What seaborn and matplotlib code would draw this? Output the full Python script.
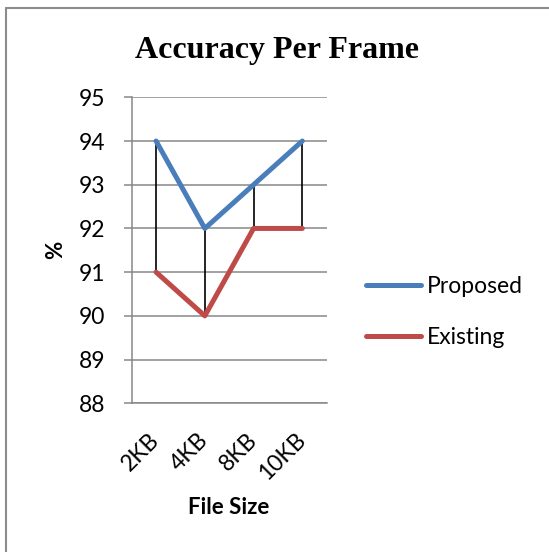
import matplotlib
matplotlib.use("Agg")
import matplotlib.pyplot as plt
from matplotlib.lines import Line2D
import seaborn as sns
import pandas as pd

categories = ["2KB", "4KB", "8KB", "10KB"]
proposed = [94, 92, 93, 94]
existing = [91, 90, 92, 92]
series_names = ["Proposed", "Existing"]
y_ticks = [88, 89, 90, 91, 92, 93, 94, 95]

df = pd.DataFrame({
    "File Size": categories * 2,
    "value": proposed + existing,
    "series": [series_names[0]] * len(categories) + [series_names[1]] * len(categories),
})

sns.set_style("white")
plt.rcParams["font.family"] = ["Lato", "DejaVu Sans"]
plt.rcParams["text.color"] = "black"
plt.rcParams["xtick.color"] = "black"
plt.rcParams["ytick.color"] = "black"
plt.rcParams["axes.labelcolor"] = "black"

W, H = 549, 552
fig = plt.figure(figsize=(W / 100, H / 100), dpi=100)
ax = fig.add_axes([131.7 / W, 1 - 403.3 / H, 195 / W, 306 / H])

grid_c = "#878787"
colors = {"Proposed": "#4A7EBB", "Existing": "#BE4B48"}

# high-low lines
ax.vlines(range(len(categories)), existing, proposed, colors="black", linewidth=1.2, zorder=2)

sns.lineplot(data=df, x="File Size", y="value", hue="series", palette=colors,
             linewidth=3.6, sort=False, ax=ax, zorder=3)
for ln in ax.lines:
    ln.set_solid_capstyle("round")
    ln.set_solid_joinstyle("round")

ax.set_xlim(-0.5, len(categories) - 0.5)
ax.set_ylim(88, 95)
ax.set_yticks(y_ticks)
ax.yaxis.grid(True, color=grid_c, linewidth=1.1)
ax.set_axisbelow(True)
for s in ["top", "right"]:
    ax.spines[s].set_visible(False)
for s in ["left", "bottom"]:
    ax.spines[s].set_color(grid_c)
    ax.spines[s].set_linewidth(1.1)

ax.tick_params(axis="y", length=6, width=1.1, color=grid_c, pad=13, labelsize=16.5,
               left=True, labelcolor="black")
ax.tick_params(axis="x", length=0, pad=24, labelsize=16.5, labelcolor="black")
for lbl in ax.get_xticklabels():
    lbl.set_rotation(45)
    lbl.set_ha("right")
    lbl.set_va("center")
    lbl.set_rotation_mode("anchor")

ax.set_xlabel("")
ax.set_ylabel("")

handles, labels = ax.get_legend_handles_labels()
ax.get_legend().remove()
leg = ax.legend(handles, labels, loc="center left", bbox_to_anchor=((366 - 131.7) / 195, (403.3 - 312) / 306),
                borderaxespad=0, borderpad=0, frameon=False, fontsize=16.5,
                handlelength=2.4, handletextpad=0.25, labelspacing=1.3)
for h in leg.get_lines():
    h.set_linewidth(3.6)
    h.set_solid_capstyle("round")
for t in leg.get_texts():
    t.set_color("black")

fig.text(277 / W, 1 - 58 / H, "Accuracy Per Frame", ha="center", va="baseline", color="black",
         fontsize=23, fontweight="bold", family=["Liberation Serif", "DejaVu Serif"])
fig.text(56 / W, 1 - 250 / H, "%", rotation=90, ha="center", va="center", color="black",
         fontsize=16, fontweight="bold")
fig.text(229 / W, 1 - 508 / H, "File Size", ha="center", va="center", color="black",
         fontsize=16, fontweight="bold")

# chart border (left and top visible)
fig.add_artist(Line2D([5.5 / W, 5.5 / W], [0, 1 - 8 / H], color="#8c8c8c", linewidth=1.5, transform=fig.transFigure))
fig.add_artist(Line2D([5.5 / W, 1], [1 - 8 / H, 1 - 8 / H], color="#8c8c8c", linewidth=1.5, transform=fig.transFigure))

fig.savefig("out.png", dpi=100)
